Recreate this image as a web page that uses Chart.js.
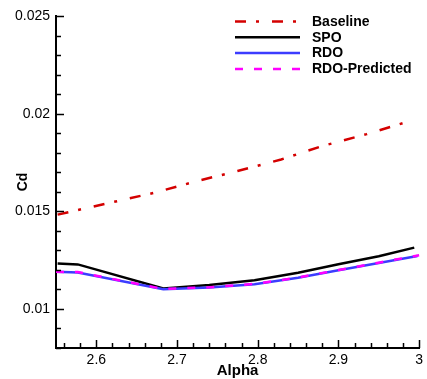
<!DOCTYPE html>
<html>
<head>
<meta charset="utf-8">
<script src="https://cdn.jsdelivr.net/npm/chart.js@4/dist/chart.umd.min.js"></script>
<style>
html,body{margin:0;padding:0;background:#fff;}
#wrap{position:relative;width:427px;height:379px;}
</style>
</head>
<body>
<div id="wrap"><canvas id="c" width="427" height="379"></canvas></div>
<script>
// ---- data ----
const seriesNames = ['Baseline', 'SPO', 'RDO', 'RDO-Predicted'];
const baselineAlpha = [2.552, 2.671, 2.725, 2.775, 2.829, 2.879, 2.935, 2.990];
const baselineCd    = [0.01483, 0.01594, 0.01655, 0.01706, 0.01765, 0.01833, 0.01895, 0.01964];
const spoAlpha = [2.552, 2.577, 2.683, 2.740, 2.796, 2.850, 2.900, 2.950, 2.994];
const spoCd    = [0.01233, 0.01228, 0.01105, 0.01122, 0.01147, 0.01185, 0.01229, 0.01270, 0.01314];
const rdoAlpha = [2.550, 2.577, 2.683, 2.740, 2.796, 2.850, 2.900, 2.950, 2.998];
const rdoCd    = [0.01190, 0.01187, 0.01101, 0.01110, 0.01127, 0.01160, 0.01198, 0.01235, 0.01271];
const rdoPredAlpha = [2.550, 2.577, 2.683, 2.740, 2.796, 2.850, 2.900, 2.950, 3.000];
const rdoPredCd    = [0.01190, 0.01189, 0.01102, 0.01111, 0.01128, 0.01161, 0.01199, 0.01237, 0.01275];

const xMajorTicks = [2.6, 2.7, 2.8, 2.9, 3.0];
const xTickLabels = ['2.6', '2.7', '2.8', '2.9', '3'];
const xMinorStep = 0.02;
const yMajorTicks = [0.01, 0.015, 0.02, 0.025];
const yTickLabels = ['0.01', '0.015', '0.02', '0.025'];
const yMinorStep = 0.001;
const xRange = [2.55, 3.0];
const yRange = [0.008, 0.025];

const pts = (xs, ys) => xs.map((x, i) => ({x: x, y: ys[i]}));

function buildTicks(min, max, step, majors) {
  const t = [];
  const n0 = Math.ceil(min / step - 1e-9), n1 = Math.floor(max / step + 1e-9);
  for (let n = n0; n <= n1; n++) {
    const v = +(n * step).toFixed(6);
    const major = majors.some(m => Math.abs(m - v) < 1e-9);
    t.push({value: v, major: major});
  }
  return t;
}

const innerTicks = {
  id: 'innerTicks',
  afterDraw(chart) {
    const ctx = chart.ctx, a = chart.chartArea;
    ctx.save();
    ctx.strokeStyle = '#000';
    ctx.lineWidth = 1.5;
    const xs = chart.scales.x, ys = chart.scales.y;
    xs.ticks.forEach(t => {
      const px = Math.round(xs.getPixelForValue(t.value)) + 0.5;
      const len = t.major ? 8 : 5;
      ctx.beginPath(); ctx.moveTo(px, a.bottom); ctx.lineTo(px, a.bottom - len); ctx.stroke();
    });
    ys.ticks.forEach(t => {
      const py = Math.round(ys.getPixelForValue(t.value)) + 0.5;
      const len = t.major ? 8 : 5;
      ctx.beginPath(); ctx.moveTo(a.left, py); ctx.lineTo(a.left + len, py); ctx.stroke();
    });
    // legend
    const items = chart.data.datasets;
    const lx0 = 235, lx1 = 300, tx = 312, y0 = 21.5, dy = 15.8;
    ctx.font = 'bold 14px "Liberation Sans", Arial, sans-serif';
    ctx.textBaseline = 'middle';
    ctx.textAlign = 'left';
    items.forEach((ds, i) => {
      const y = y0 + i * dy;
      ctx.beginPath();
      ctx.setLineDash(ds.borderDash || []);
      ctx.strokeStyle = ds.borderColor;
      ctx.lineWidth = ds.borderWidth;
      ctx.moveTo(lx0, y); ctx.lineTo(lx1, y); ctx.stroke();
      ctx.setLineDash([]);
      ctx.fillStyle = '#000';
      ctx.fillText(ds.label, tx, y + 0.5);
    });
    ctx.restore();
  }
};

const tickFont = {family: '"Liberation Sans", Arial, sans-serif', size: 14};

new Chart(document.getElementById('c'), {
  type: 'line',
  data: {
    datasets: [
      {label: seriesNames[0], data: pts(baselineAlpha, baselineCd), borderColor: '#d40000', borderWidth: 2.5, borderDash: [11, 10, 3, 13], order: 3},
      {label: seriesNames[1], data: pts(spoAlpha, spoCd), borderColor: '#000000', borderWidth: 2.5, order: 2},
      {label: seriesNames[2], data: pts(rdoAlpha, rdoCd), borderColor: '#3c3cff', borderWidth: 2.5, order: 1},
      {label: seriesNames[3], data: pts(rdoPredAlpha, rdoPredCd), borderColor: '#ff00ff', borderWidth: 2.5, borderDash: [8, 11], order: 0}
    ]
  },
  options: {
    responsive: false,
    animation: false,
    events: [],
    clip: false,
    elements: {point: {radius: 0}, line: {tension: 0, borderCapStyle: 'butt'}},
    layout: {padding: {left: 0, right: 7, top: 16, bottom: 0}},
    plugins: {legend: {display: false}, tooltip: {enabled: false}},
    scales: {
      x: {
        type: 'linear', min: xRange[0], max: xRange[1],
        afterBuildTicks: s => { s.ticks = buildTicks(xRange[0], xRange[1], xMinorStep, xMajorTicks); },
        afterFit: s => { s.height = 31; },
        grid: {display: false, drawTicks: false},
        border: {display: true, color: '#000', width: 2},
        ticks: {
          autoSkip: false, maxRotation: 0, padding: 4, color: '#000', font: tickFont,
          callback: (v) => { const i = xMajorTicks.findIndex(m => Math.abs(m - v) < 1e-9); return i >= 0 ? xTickLabels[i] : ''; }
        },
        title: {display: true, text: 'Alpha', color: '#000', padding: {top: 0, bottom: -1},
                font: {family: '"Liberation Sans", Arial, sans-serif', size: 15, weight: 'bold'}}
      },
      y: {
        type: 'linear', min: yRange[0], max: yRange[1],
        afterBuildTicks: s => { s.ticks = buildTicks(yRange[0], yRange[1], yMinorStep, yMajorTicks); },
        afterFit: s => { s.width = 56; },
        grid: {display: false, drawTicks: false},
        border: {display: true, color: '#000', width: 2},
        ticks: {
          autoSkip: false, padding: 6, color: '#000', font: tickFont,
          callback: (v) => { const i = yMajorTicks.findIndex(m => Math.abs(m - v) < 1e-9); return i >= 0 ? yTickLabels[i] : ''; }
        },
        title: {display: true, text: 'Cd', color: '#000', padding: {top: 15, bottom: 0},
                font: {family: '"Liberation Sans", Arial, sans-serif', size: 14, weight: 'bold'}}
      }
    }
  },
  plugins: [innerTicks]
});
</script>
</body>
</html>
